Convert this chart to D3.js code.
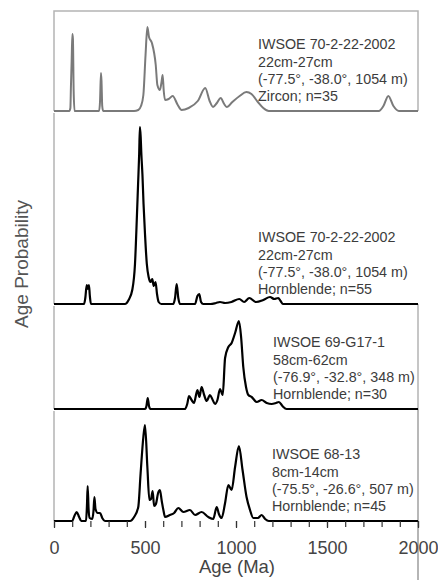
<!DOCTYPE html>
<html>
<head>
<meta charset="utf-8">
<script src="https://cdn.jsdelivr.net/npm/d3@7"></script>
<style>
  body { margin: 0; background: #fff; }
  text { font-family: "Liberation Sans", Arial, sans-serif; }
</style>
</head>
<body>
<svg width="438" height="580"></svg>
<script>
// age (Ma) and relative probability
const zirconAges = [0, 84, 90, 93, 97, 101, 104, 108, 113, 248, 253, 258, 261, 265, 270, 440, 463, 478, 491, 503, 513, 522, 538, 559, 568, 582, 590, 597, 603, 610, 630, 652, 680, 701, 740, 790, 831, 855, 874, 895, 916, 935, 949, 980, 1020, 1057, 1085, 1120, 1150, 1180, 1785, 1810, 1837, 1865, 1895, 2000];
const zirconProb = [0, 0, 3, 24, 50, 77, 72, 20, 0, 0, 10, 38, 30, 5, 0, 0, 1, 5, 16, 56, 84, 74, 68, 46, 26, 21, 28, 36, 20, 11, 12, 15, 6, 1, 3, 10, 23, 10, 4, 8, 13, 7, 4, 9, 15, 19, 17, 9, 3, 0, 0, 5, 15, 5, 0, 0];

const horn1Ages = [0, 165, 172, 180, 186, 192, 197, 203, 390, 410, 430, 445, 455, 462, 468, 472, 476, 480, 486, 492, 500, 510, 520, 530, 540, 548, 558, 566, 575, 590, 655, 665, 674, 683, 692, 775, 788, 798, 808, 820, 860, 890, 912, 940, 975, 1018, 1045, 1073, 1110, 1150, 1187, 1210, 1232, 1245, 1258, 2000];
const horn1Prob = [0, 0, 6, 19, 15, 19, 8, 0, 0, 4, 14, 40, 85, 120, 150, 177, 168, 150, 129, 100, 70, 40, 27, 22, 25, 18, 22, 10, 2, 0, 0, 6, 20, 6, 0, 0, 8, 10, 2, 0, 0, 1, 2, 1, 2, 5, 2, 6, 2, 4, 7, 5, 6, 3, 0, 0];

const horn2Ages = [0, 500, 508, 515, 522, 530, 720, 732, 742, 756, 769, 788, 799, 811, 825, 839, 857, 872, 885, 898, 912, 927, 940, 958, 976, 995, 1016, 1028, 1040, 1055, 1068, 1086, 1114, 1141, 1169, 1196, 1220, 1236, 1255, 1278, 2000];
const horn2Prob = [0, 0, 3, 11, 3, 0, 0, 5, 13, 9, 6, 19, 12, 22, 14, 8, 14, 9, 5, 9, 20, 14, 51, 62, 66, 76, 88, 72, 42, 22, 14, 12, 7, 9, 6, 5, 6, 7, 3, 0, 0];

const horn3Ages = [0, 100, 112, 125, 138, 150, 176, 181, 185, 190, 196, 210, 217, 222, 228, 240, 253, 265, 280, 418, 440, 463, 476, 491, 500, 513, 524, 533, 542, 550, 560, 572, 582, 592, 602, 610, 637, 660, 683, 711, 747, 775, 811, 848, 875, 894, 906, 921, 940, 958, 976, 995, 1016, 1036, 1058, 1077, 1095, 1120, 1141, 1160, 1180, 2000];
const horn3Prob = [0, 0, 5, 9, 4, 0, 0, 15, 35, 12, 3, 2, 10, 24, 12, 8, 8, 3, 0, 0, 4, 14, 48, 84, 96, 54, 21, 22, 30, 15, 17, 28, 31, 20, 10, 4, 6, 8, 13, 9, 11, 6, 9, 4, 2, 14, 7, 3, 18, 36, 31, 54, 75, 51, 24, 11, 3, 3, 6, 2, 0, 0];

const sampleLabels = [
  ["IWSOE 70-2-22-2002", "22cm-27cm", "(-77.5°, -38.0°, 1054 m)", "Zircon; n=35"],
  ["IWSOE 70-2-22-2002", "22cm-27cm", "(-77.5°, -38.0°, 1054 m)", "Hornblende; n=55"],
  ["IWSOE 69-G17-1", "58cm-62cm", "(-76.9°, -32.8°, 348 m)", "Hornblende; n=30"],
  ["IWSOE 68-13", "8cm-14cm", "(-75.5°, -26.6°, 507 m)", "Hornblende; n=45"]
];

const majorTicks = [0, 500, 1000, 1500, 2000];
const minorTicks = d3.range(0, 2001, 100);

const svg = d3.select("svg");

const x = d3.scaleLinear().domain([0, 2000]).range([54, 418]);

// panel boxes (top, bottom) and label x position
const panels = [
  { ages: zirconAges, prob: zirconProb, top: 11, bottom: 111, color: "#7a7a7a", width: 2, labelX: 258 },
  { ages: horn1Ages, prob: horn1Prob, top: 113, bottom: 304, color: "#000", width: 2.2, labelX: 258 },
  { ages: horn2Ages, prob: horn2Prob, top: 306, bottom: 409, color: "#000", width: 2.2, labelX: 273 },
  { ages: horn3Ages, prob: horn3Prob, top: 411, bottom: 521, color: "#000", width: 2.2, labelX: 272 }
];

panels.forEach(function (p, i) {
  let y = d3.scaleLinear()
    .domain([0, p.bottom - p.top])
    .range([p.bottom, p.top]);

  // frame: sides only, plus the top edge for the first panel
  let frame = "M" + x(0) + "," + p.bottom + "V" + p.top;
  frame += (i == 0 ? "H" : "M" + x(2000) + "," + p.top) + x(2000) + "V" + p.bottom;
  svg.append("path")
    .attr("d", frame)
    .attr("fill", "none")
    .attr("stroke", "#b4b4b4")
    .attr("stroke-width", 1.5);

  let pts = p.ages.map(function (a, j) { return [a, p.prob[j]]; });

  let line = d3.line()
    .x(function (d) { return x(d[0]); })
    .y(function (d) { return y(d[1]); })
    .curve(d3.curveMonotoneX);

  svg.append("path")
    .datum(pts)
    .attr("d", line)
    .attr("fill", "none")
    .attr("stroke", p.color)
    .attr("stroke-width", p.width)
    .attr("stroke-linejoin", "round");

  let lines = sampleLabels[i];
  svg.append("text")
    .attr("fill", "#3c3c3c")
    .attr("font-size", 14.3)
    .selectAll("tspan")
    .data(lines)
    .enter().append("tspan")
    .attr("x", p.labelX)
    .attr("y", function (d, k) { return p.bottom - 10 - (lines.length - 1 - k) * 17.2; })
    .text(function (d) { return d; });
});

// x axis
let axisY = 521;
let axis = svg.append("g")
  .attr("transform", "translate(0," + axisY + ")");

axis.call(d3.axisBottom(x).tickValues(minorTicks).tickSize(6).tickFormat(""))
  .call(function (g) { g.select(".domain").remove(); });

axis.append("g")
  .call(d3.axisBottom(x).tickValues(majorTicks).tickSize(7).tickPadding(13).tickFormat(d3.format("d")))
  .call(function (g) { g.select(".domain").remove(); })
  .selectAll("text")
  .attr("font-size", 18)
  .attr("font-family", "Liberation Sans, Arial, sans-serif")
  .attr("fill", "#444");

axis.selectAll("line").attr("stroke", "#333").attr("stroke-width", 1.2);

svg.append("text")
  .attr("x", 237)
  .attr("y", 573)
  .attr("text-anchor", "middle")
  .attr("font-size", 18.5)
  .attr("fill", "#444")
  .text("Age (Ma)");

svg.append("text")
  .attr("transform", "translate(28,264) rotate(-90)")
  .attr("text-anchor", "middle")
  .attr("font-size", 19)
  .attr("fill", "#555")
  .text("Age Probability");
</script>
</body>
</html>
